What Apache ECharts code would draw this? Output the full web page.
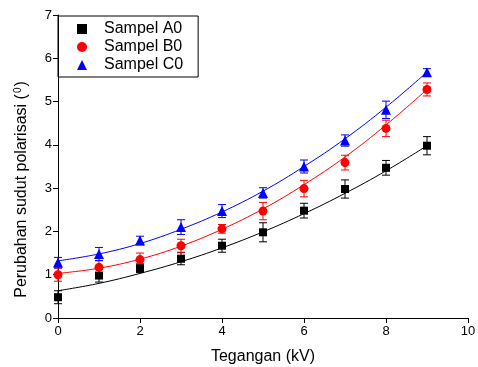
<!DOCTYPE html>
<html><head><meta charset="utf-8">
<script src="https://cdn.jsdelivr.net/npm/echarts@6/dist/echarts.min.js"></script>
<style>html,body{margin:0;padding:0;background:#fff}#c{width:478px;height:367px}</style>
</head><body><div id="c"></div>
<script>
const voltage = [0,1,2,3,4,5,6,7,8,9];
const seriesNames = ['Sampel A0','Sampel B0','Sampel C0'];
const valA = [0.48,0.98,1.15,1.37,1.67,1.98,2.48,2.98,3.47,3.98];
const valB = [1.00,1.17,1.35,1.67,2.06,2.47,2.99,3.59,4.38,5.28];
const valC = [1.28,1.48,1.79,2.10,2.47,2.89,3.50,4.10,4.81,5.68];
const errA = [0.15,0.15,0.10,0.14,0.15,0.22,0.17,0.21,0.17,0.21];
const errB = [0.15,0.15,0.15,0.15,0.10,0.20,0.19,0.17,0.19,0.15];
const errC = [0.12,0.15,0.10,0.17,0.15,0.12,0.15,0.13,0.20,0.08];
const fitA = [0.63,0.80,1.03,1.30,1.62,1.99,2.41,2.88,3.40,3.98];
const fitB = [1.03,1.15,1.36,1.66,2.05,2.52,3.08,3.72,4.46,5.28];
const fitC = [1.32,1.48,1.72,2.05,2.45,2.93,3.50,4.14,4.87,5.68];
const xTicks = [0,2,4,6,8,10];
const yTicks = [0,1,2,3,4,5,6,7];

const colors = ['#000000','#ff0000','#0000ff'];
const symbols = ['rect','circle','triangle'];
const symSizes = [8,9,10];
const vals = [valA,valB,valC], errs = [errA,errB,errC], fits = [fitA,fitB,fitC];
const FONT = 'Liberation Sans, Arial, sans-serif';

const series = [];
for (let s = 0; s < 3; s++) {
  series.push({
    type: 'line', data: voltage.map((x,i)=>[x,fits[s][i]]), smooth: 0.4,
    showSymbol: false, lineStyle: {color: colors[s], width: 1}, silent: true, z: 2
  });
  series.push({
    type: 'custom', z: 3, silent: true,
    data: voltage.map((x,i)=>[x, vals[s][i]-errs[s][i], vals[s][i]+errs[s][i]]),
    renderItem: (function(col){ return function(params, api){
      const lo = api.coord([api.value(0), api.value(1)]);
      const hi = api.coord([api.value(0), api.value(2)]);
      const w = 4;
      const st = {stroke: col, lineWidth: 1};
      return {type:'group', children:[
        {type:'line', shape:{x1:lo[0],y1:lo[1],x2:hi[0],y2:hi[1]}, style:st},
        {type:'line', shape:{x1:lo[0]-w,y1:lo[1],x2:lo[0]+w,y2:lo[1]}, style:st},
        {type:'line', shape:{x1:hi[0]-w,y1:hi[1],x2:hi[0]+w,y2:hi[1]}, style:st}
      ]};
    };})(colors[s])
  });
  series.push({
    name: seriesNames[s], type: 'scatter', z: 4,
    data: voltage.map((x,i)=>[x, vals[s][i]]),
    symbol: symbols[s], symbolSize: symSizes[s],
    itemStyle: {color: colors[s], opacity: 1}
  });
}

const chart = echarts.init(document.getElementById('c'), null, {renderer:'canvas'});
chart.setOption({
  animation: false,
  backgroundColor: '#fff',
  textStyle: {fontFamily: FONT},
  grid: {left: 58, right: 10, top: 15, bottom: 49, containLabel: false, outerBoundsMode: 'none'},
  legend: {
    data: seriesNames, orient: 'vertical', left: 58, top: 16,
    borderColor: '#000', borderWidth: 1, borderRadius: 0,
    padding: [5, 15, 4, 19], itemGap: 2, itemWidth: 10, itemHeight: 10,
    textStyle: {fontSize: 16, color: '#000', padding: [0,0,0,12], fontFamily: FONT}
  },
  xAxis: {
    type: 'value', min: 0, max: 10, interval: 2,
    name: 'Tegangan (kV)', nameLocation: 'middle', nameGap: 31,
    nameTextStyle: {fontSize: 16, color: '#000', fontFamily: FONT},
    axisLine: {lineStyle: {color: '#000', width: 1}},
    axisTick: {show: true, inside: false, length: 5, lineStyle: {color: '#000'}},
    axisLabel: {fontSize: 13, color: '#000', margin: 7, showMinLabel: true, showMaxLabel: true},
    splitLine: {show: false}
  },
  yAxis: {
    type: 'value', min: 0, max: 7, interval: 1,
    name: '{n|Perubahan sudut polarisasi (}{s|0}{n|)}', nameLocation: 'middle', nameGap: 28,
    nameTextStyle: {padding: [0, 46, 0, 0], rich: {n: {fontSize: 16, color: '#000', fontFamily: FONT}, s: {fontSize: 10, color: '#000', fontFamily: FONT, verticalAlign: 'top', padding: [0,1,7,1]}}},
    axisLine: {show: true, lineStyle: {color: '#000', width: 1}},
    axisTick: {show: true, inside: false, length: 5, lineStyle: {color: '#000'}},
    axisLabel: {fontSize: 13, color: '#000', margin: 6},
    splitLine: {show: false}
  },
  series: series
});
</script></body></html>
